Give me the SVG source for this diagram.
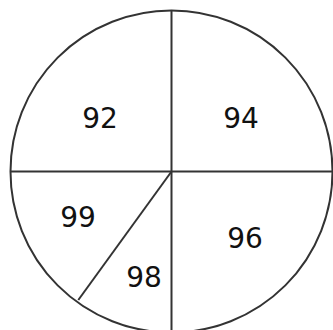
<svg xmlns="http://www.w3.org/2000/svg" width="333" height="330" viewBox="0 0 333 330">
<style>
.ln{stroke:#333;stroke-width:2;fill:none}
.t{font-family:"DejaVu Sans",sans-serif;font-size:28px;fill:#111;text-anchor:middle}
</style>
<rect width="333" height="330" fill="#fff"/>
<g id="circle"><circle cx="171.5" cy="171.5" r="161" class="ln" stroke-width="1.8"/></g>
<g id="connectors">
<line class="ln" x1="171.5" y1="10" x2="171.5" y2="333"/>
<line class="ln" x1="10" y1="171.5" x2="333" y2="171.5"/>
<line class="ln" x1="171.5" y1="171.5" x2="78.3" y2="300"/>
</g>
<g id="n92"><text class="t" x="100" y="128">92</text></g>
<g id="n94"><text class="t" x="241" y="128">94</text></g>
<g id="n99"><text class="t" x="78" y="227">99</text></g>
<g id="n96"><text class="t" x="245" y="248">96</text></g>
<g id="n98"><text class="t" x="144" y="287">98</text></g>
</svg>
